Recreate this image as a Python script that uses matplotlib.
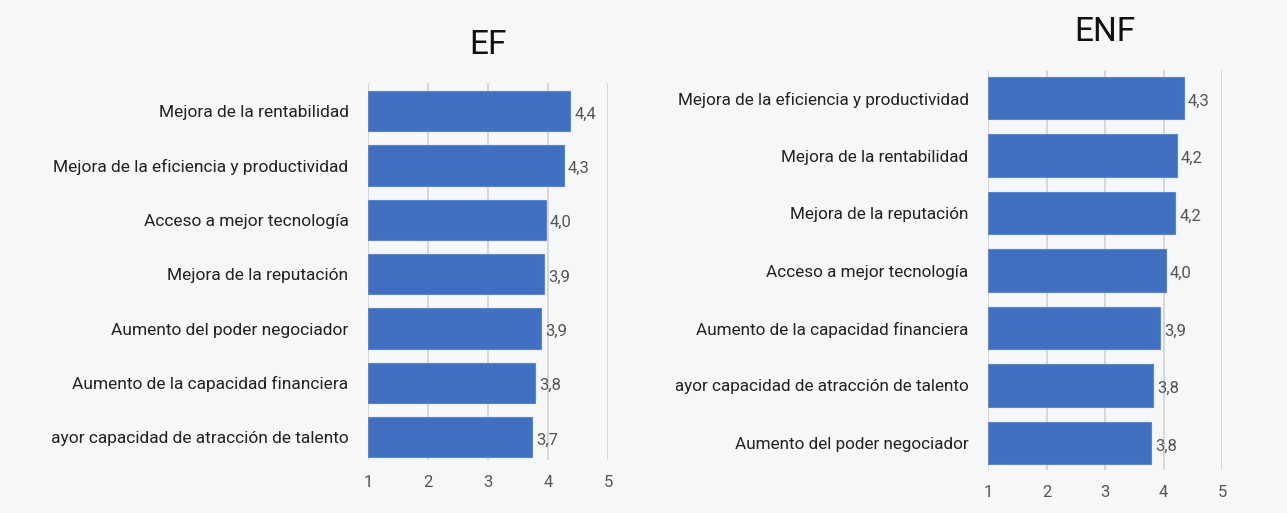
import matplotlib
matplotlib.use("Agg")
import matplotlib.pyplot as plt
from matplotlib.transforms import Bbox, TransformedBbox

# ---- data ----
ef_labels = ["Mejora de la rentabilidad",
             "Mejora de la eficiencia y productividad",
             "Acceso a mejor tecnología",
             "Mejora de la reputación",
             "Aumento del poder negociador",
             "Aumento de la capacidad financiera",
             "Mayor capacidad de atracción de talento"]
ef_values = [4.37, 4.26, 3.96, 3.94, 3.88, 3.78, 3.73]

enf_labels = ["Mejora de la eficiencia y productividad",
              "Mejora de la rentabilidad",
              "Mejora de la reputación",
              "Acceso a mejor tecnología",
              "Aumento de la capacidad financiera",
              "Mayor capacidad de atracción de talento",
              "Aumento del poder negociador"]
enf_values = [4.35, 4.23, 4.20, 4.04, 3.94, 3.82, 3.79]

x_ticks = [1, 2, 3, 4, 5]

BG = "#f6f7f9"
BAR = "#4170c0"
FONT = "Roboto"

plt.rcParams["font.family"] = [FONT, "DejaVu Sans"]

fig = plt.figure(figsize=(12.87, 5.13), dpi=100)
fig.patch.set_facecolor(BG)


def panel(rect, title, labels, values, ylim, clip_left, label_size):
    ax = fig.add_axes(rect)
    ax.set_facecolor(BG)
    ypos = list(range(len(labels)))
    ax.barh(ypos, [v - 1 for v in values], left=1, height=0.74,
            color=BAR, edgecolor="#5a85cf", linewidth=0.8, zorder=3)
    for y, v in zip(ypos, values):
        ax.text(v + 0.07, y + 0.05, f"{v:.1f}".replace(".", ","), va="center",
                ha="left", fontsize=12, color="#555555", zorder=4)
    ax.set_xlim(1, 5)
    ax.set_ylim(*ylim)
    ax.set_xticks(x_ticks)
    ax.set_xticklabels([str(t) for t in x_ticks], fontsize=12, color="#555555")
    ax.set_yticks(ypos)
    ax.set_yticklabels(labels, fontsize=label_size, color="#222222")
    ax.tick_params(axis="both", length=0)
    ax.tick_params(axis="x", pad=11)
    ax.tick_params(axis="y", pad=14)
    ax.grid(axis="x", color="#d4d4d4", linewidth=1.3, zorder=0)
    for s in ax.spines.values():
        s.set_visible(False)
    ax.set_title(title, fontsize=24, pad=21, color="#111111")
    # the reference crops the longest label at the left
    clip = TransformedBbox(Bbox([[clip_left, 0], [1, 1]]), fig.transFigure)
    for lbl in ax.get_yticklabels():
        lbl.set_clip_box(clip)
        lbl.set_clip_on(True)
    return ax


panel([0.2859, 0.1033, 0.1865, 0.735], "EF", ef_labels, ef_values,
      (6.42, -0.52), 50 / 1287, 12.55)
panel([0.7677, 0.0838, 0.1818, 0.78], "ENF", enf_labels, enf_values,
      (6.47, -0.49), 676 / 1287, 12.3)

fig.savefig("out.png", dpi=100, facecolor=BG)
